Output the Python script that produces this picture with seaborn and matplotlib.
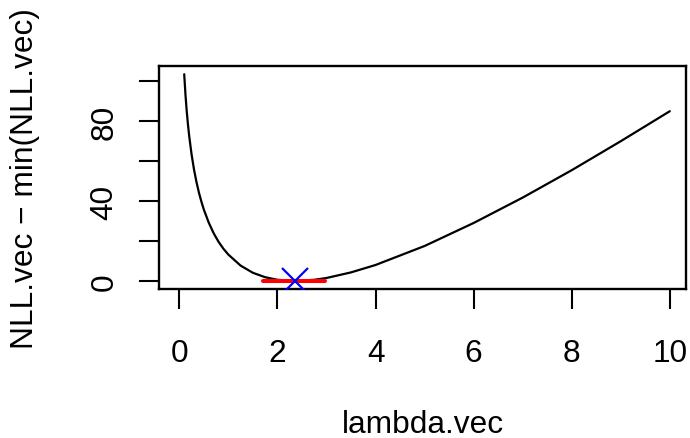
import matplotlib
matplotlib.use("Agg")
import matplotlib.pyplot as plt
import seaborn as sns
import pandas as pd

# Poisson rate grid and the negative log-likelihood, shifted so its minimum is 0
lambda_vec = [0.1, 0.125, 0.15, 0.175, 0.2, 0.25, 0.3, 0.35, 0.4, 0.45, 0.5, 0.6, 0.7,
              0.8, 0.9, 1.0, 1.25, 1.5, 1.75, 2.0, 2.35, 2.75, 3.0, 3.5, 4.0,
              5.0, 6.0, 7.0, 8.0, 9.0, 10.0]
nll_rel = [103.4, 93.4, 85.3, 78.6, 72.8, 63.3, 55.7, 49.5, 44.2, 39.7, 35.7, 29.2, 23.9,
           19.6, 16.1, 13.2, 7.7, 4.1, 1.9, 0.6, 0.0, 0.6, 1.5, 4.3, 8.0,
           17.5, 29.0, 41.7, 55.4, 69.9, 84.9]

# maximum-likelihood estimate and the interval drawn along the baseline
lambda_hat = 2.35
ci_bounds = [1.71, 2.98]

x_ticks = [0, 2, 4, 6, 8, 10]
y_ticks = [0, 20, 40, 60, 80, 100]
y_labels = ["0", "", "40", "", "80", ""]

sns.set_style("white")
plt.rcParams["font.family"] = ["Liberation Sans", "DejaVu Sans"]
plt.rcParams["text.color"] = "black"
plt.rcParams["axes.labelcolor"] = "black"
fs = 22.8

fig = plt.figure(figsize=(6.9, 4.39), dpi=100)
ax = fig.add_axes([159 / 690, 1 - 290 / 439, 527 / 690, 223 / 439])

df = pd.DataFrame({"lambda": lambda_vec, "nll": nll_rel})
sns.lineplot(data=df, x="lambda", y="nll", ax=ax, color="black", lw=1.6,
             sort=False, estimator=None)

ax.plot(ci_bounds, [0, 0], color="red", lw=2.9, solid_capstyle="round", zorder=3)
ax.plot([lambda_hat], [0], marker="x", color="blue", markersize=19,
        markeredgewidth=1.6, linestyle="none", zorder=4)

ax.set_xlim(-0.414, 10.33)
ax.set_ylim(-4.0, 107.5)

ax.set_xticks(x_ticks)
ax.set_xticklabels([str(t) for t in x_ticks])
ax.set_yticks(y_ticks)
ax.set_yticklabels(y_labels, rotation=90, va="center")

ax.tick_params(axis="both", direction="out", length=14.4, width=1.5,
               labelsize=fs, colors="black", labelcolor="black",
               bottom=True, left=True)
ax.tick_params(axis="x", pad=21)
ax.tick_params(axis="y", pad=14)

for s in ax.spines.values():
    s.set_linewidth(1.7)
    s.set_color("black")

ax.set_xlabel("lambda.vec", fontsize=fs, va="center", color="black")
ax.xaxis.set_label_coords(0.5, -(425 - 290) / 223)
ax.set_ylabel("NLL.vec \u2212 min(NLL.vec)", fontsize=fs, va="center", color="black")
ax.yaxis.set_label_coords(-(159 - 25) / 527, 0.5)

fig.savefig("out.png", dpi=100)
